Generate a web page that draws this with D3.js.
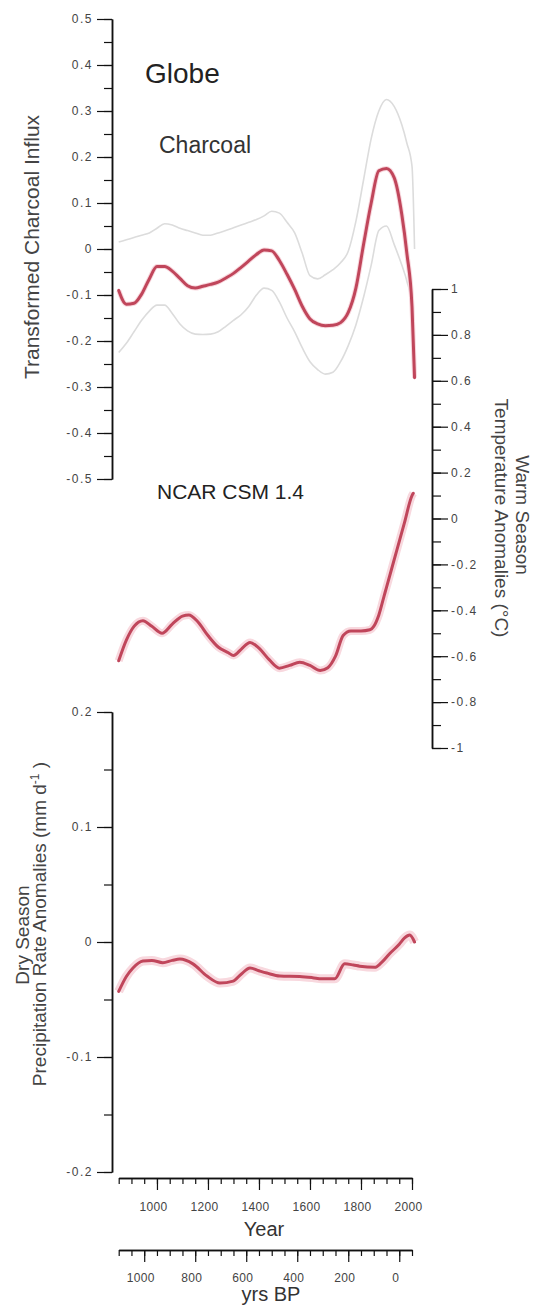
<!DOCTYPE html>
<html>
<head>
<meta charset="utf-8">
<script src="https://cdn.jsdelivr.net/npm/d3@7"></script>
<style>
  body { margin: 0; background: #fff; }
  svg { display: block; font-family: "Liberation Sans", Arial, sans-serif; }
  .tick text { font-size: 12px; letter-spacing: 1.5px; fill: #444; }
  .xaxis .tick text { letter-spacing: 0.3px; }
  .domain { stroke: #111; stroke-width: 1.5; }
  .tick line { stroke: #111; stroke-width: 1.2; }
</style>
</head>
<body>
<div id="chart"></div>
<script>
// charcoal composite (transformed influx), mean and band
const charcoalYears = [850, 880, 910, 940, 970, 1000, 1030, 1060, 1090, 1120, 1150, 1180, 1210, 1240, 1270, 1300, 1330, 1360, 1390, 1420, 1450, 1480, 1510, 1540, 1570, 1600, 1630, 1660, 1690, 1720, 1750, 1780, 1810, 1840, 1870, 1900, 1930, 1960, 1980, 2000, 2010];
const charcoalMean = [-0.090, -0.120, -0.118, -0.098, -0.065, -0.038, -0.038, -0.048, -0.064, -0.080, -0.085, -0.081, -0.077, -0.072, -0.063, -0.053, -0.040, -0.026, -0.012, -0.002, -0.004, -0.025, -0.055, -0.088, -0.125, -0.152, -0.163, -0.167, -0.166, -0.160, -0.138, -0.085, 0.010, 0.100, 0.170, 0.175, 0.155, 0.075, -0.010, -0.125, -0.280];
const charcoalUpper = [0.015, 0.020, 0.025, 0.030, 0.035, 0.045, 0.055, 0.052, 0.045, 0.040, 0.035, 0.030, 0.030, 0.035, 0.040, 0.046, 0.052, 0.058, 0.064, 0.072, 0.082, 0.078, 0.058, 0.035, -0.010, -0.058, -0.065, -0.056, -0.045, -0.030, -0.005, 0.060, 0.150, 0.240, 0.300, 0.325, 0.310, 0.270, 0.230, 0.180, 0.000];
const charcoalLower = [-0.225, -0.205, -0.180, -0.155, -0.135, -0.122, -0.122, -0.140, -0.163, -0.178, -0.185, -0.186, -0.185, -0.180, -0.168, -0.155, -0.143, -0.125, -0.100, -0.085, -0.090, -0.115, -0.150, -0.180, -0.215, -0.245, -0.262, -0.272, -0.268, -0.245, -0.210, -0.165, -0.105, -0.035, 0.040, 0.050, 0.010, -0.035, -0.070, -0.125, -0.270];

// NCAR CSM 1.4 warm season temperature anomalies
const ncarYears = [850, 880, 910, 945, 980, 1020, 1060, 1100, 1125, 1160, 1200, 1240, 1280, 1300, 1330, 1365, 1400, 1440, 1480, 1520, 1560, 1600, 1640, 1670, 1700, 1730, 1760, 1800, 1835, 1850, 1870, 1890, 1900, 1940, 1970, 2000, 2005];
const ncarTemp = [-0.62, -0.53, -0.47, -0.445, -0.47, -0.5, -0.46, -0.425, -0.42, -0.45, -0.51, -0.56, -0.585, -0.597, -0.57, -0.54, -0.565, -0.615, -0.652, -0.64, -0.626, -0.64, -0.662, -0.65, -0.6, -0.51, -0.49, -0.49, -0.485, -0.47, -0.42, -0.34, -0.3, -0.14, -0.02, 0.1, 0.11];

// dry season precipitation rate anomalies
const precipYears = [850, 880, 906, 945, 980, 1023, 1060, 1090, 1141, 1196, 1247, 1299, 1330, 1365, 1400, 1431, 1482, 1560, 1610, 1646, 1697, 1736, 1770, 1795, 1854, 1880, 1913, 1950, 1971, 1991, 2010];
const precipRate = [-0.043, -0.03, -0.0226, -0.0165, -0.016, -0.018, -0.016, -0.0148, -0.019, -0.0296, -0.0357, -0.034, -0.028, -0.0226, -0.025, -0.027, -0.0296, -0.03, -0.031, -0.032, -0.032, -0.019, -0.02, -0.021, -0.022, -0.018, -0.01, -0.002, 0.0035, 0.006, 0.0];

// tick labels
const charcoalTicks = [0.5, 0.4, 0.3, 0.2, 0.1, 0, -0.1, -0.2, -0.3, -0.4, -0.5];
const tempTicks = [1, 0.8, 0.6, 0.4, 0.2, 0, -0.2, -0.4, -0.6, -0.8, -1];
const precipTicks = [0.2, 0.1, 0, -0.1, -0.2];
const yearTicks = [1000, 1200, 1400, 1600, 1800, 2000];
const bpTicks = [1000, 800, 600, 400, 200, 0];

const width = 535, height = 1310;
const red = '#c0465b';

const svg = d3.select('#chart').append('svg')
    .attr('width', width)
    .attr('height', height);

const x = d3.scaleLinear().domain([850, 2000]).range([118.7, 412]);
const xBP = d3.scaleLinear().domain([1950 - 850, 1950 - 2000]).range([118.7, 412]);
const yChar = d3.scaleLinear().domain([-0.5, 0.5]).range([479, 19]);
const yTemp = d3.scaleLinear().domain([-1, 1]).range([748, 289]);
const yPrec = d3.scaleLinear().domain([-0.2, 0.2]).range([1172, 712]);

const fmt = d => d === 0 ? '0' : (Number.isInteger(d) ? String(d) : d.toFixed(1));

function drawAxis(axisFn, scale, major, minorStep, transform, bigLen, smallLen, pad) {
    const dom = scale.domain();
    const minor = d3.range(Math.min(dom[0], dom[1]), Math.max(dom[0], dom[1]) + 1e-9, minorStep);
    svg.append('g')
        .attr('transform', transform)
        .call(axisFn(scale).tickValues(minor).tickSize(smallLen).tickSizeOuter(0).tickFormat(''));
    return svg.append('g')
        .attr('transform', transform)
        .call(axisFn(scale).tickValues(major).tickSize(bigLen).tickSizeOuter(0).tickPadding(pad).tickFormat(fmt));
}

function line(xs, ys, yScale) {
    return d3.line()
        .x((d, i) => x(xs[i]))
        .y(d => yScale(d))
        .curve(d3.curveMonotoneX)(ys);
}

// left axis - charcoal
drawAxis(d3.axisLeft, yChar, charcoalTicks, 0.05, 'translate(112,0)', 15, 8, 4);
// right axis - temperature
drawAxis(d3.axisRight, yTemp, tempTicks, 0.1, 'translate(432,0)', 16, 9, 3);
// left axis - precipitation
drawAxis(d3.axisLeft, yPrec, precipTicks, 0.05, 'translate(112,0)', 15, 8, 4);
// bottom axes (AD and BP)
drawAxis(d3.axisBottom, x, yearTicks, 50, 'translate(0,1178)', 12, 6, 12)
    .attr('class', 'xaxis')
    .selectAll('.tick text').attr('dx', -4);
drawAxis(d3.axisBottom, xBP, bpTicks, 50, 'translate(0,1250)', 12, 6, 11)
    .attr('class', 'xaxis')
    .selectAll('.tick text').attr('dx', -4);

// charcoal band
[charcoalUpper, charcoalLower].forEach(s => {
    svg.append('path')
        .attr('d', line(charcoalYears, s, yChar))
        .attr('fill', 'none')
        .attr('stroke', '#dcdcdc')
        .attr('stroke-width', 1.6);
});

// red curves with a soft pink halo
const series = [
    [charcoalYears, charcoalMean, yChar, 5],
    [ncarYears, ncarTemp, yTemp, 8],
    [precipYears, precipRate, yPrec, 9]
];
series.forEach(s => {
    const d = line(s[0], s[1], s[2]);
    svg.append('path')
        .attr('d', d)
        .attr('fill', 'none')
        .attr('stroke', '#f8d8de')
        .attr('stroke-width', s[3])
        .attr('stroke-linejoin', 'round');
    svg.append('path')
        .attr('d', d)
        .attr('fill', 'none')
        .attr('stroke', red)
        .attr('stroke-width', 3)
        .attr('stroke-linejoin', 'round')
        .attr('stroke-linecap', 'round');
});

// panel titles
svg.append('text').attr('x', 145).attr('y', 83)
    .style('font-size', '28px').style('fill', '#222').text('Globe');
svg.append('text').attr('x', 159).attr('y', 153)
    .style('font-size', '23px').style('fill', '#333').text('Charcoal');
svg.append('text').attr('x', 157).attr('y', 499)
    .style('font-size', '21px').style('fill', '#222').text('NCAR CSM 1.4');

// axis titles
function vText(xp, yp, rot, size, txt) {
    return svg.append('text')
        .attr('transform', 'translate(' + xp + ',' + yp + ') rotate(' + rot + ')')
        .style('text-anchor', 'middle')
        .style('font-size', size + 'px')
        .style('fill', '#444')
        .text(txt);
}
vText(39, 247, -90, 21, 'Transformed Charcoal Influx');
vText(516, 515, 90, 19, 'Warm Season');
vText(495, 518, 90, 19, 'Temperature Anomalies (°C)');
vText(29, 935, -90, 19, 'Dry Season');
const pr = vText(46, 924, -90, 19, 'Precipitation Rate Anomalies (mm d');
pr.append('tspan').attr('dy', -7).style('font-size', '12px').text('-1');
pr.append('tspan').attr('dy', 7).text(' )');

svg.append('text').attr('x', 264).attr('y', 1236)
    .style('text-anchor', 'middle').style('font-size', '20px').style('fill', '#333').text('Year');
svg.append('text').attr('x', 271).attr('y', 1301)
    .style('text-anchor', 'middle').style('font-size', '20px').style('fill', '#333').text('yrs BP');
</script>
</body>
</html>
